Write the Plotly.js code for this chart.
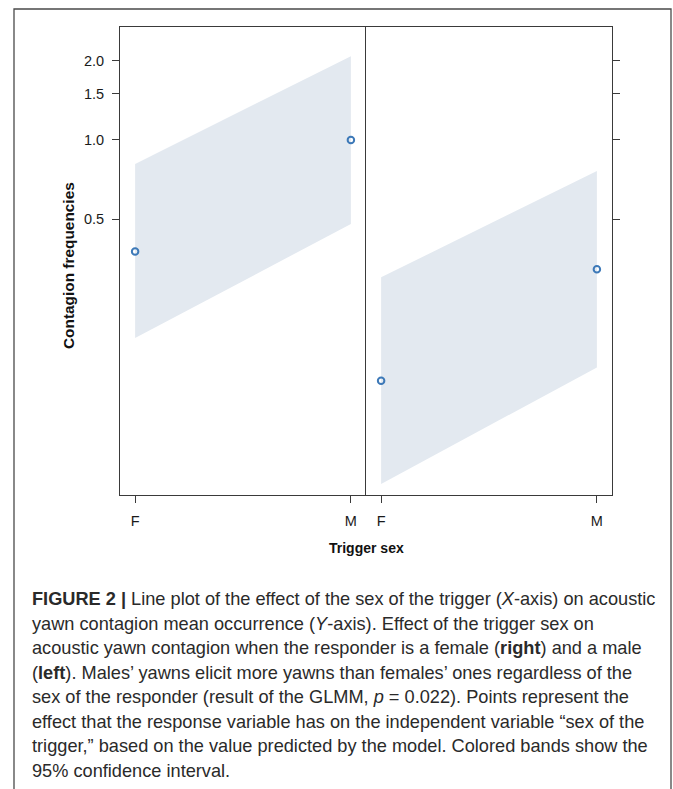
<!DOCTYPE html>
<html>
<head>
<meta charset="utf-8">
<script src="https://cdn.plot.ly/plotly-3.0.1.min.js"></script>
<style>
  html, body { margin: 0; padding: 0; background: #ffffff; }
  #chart { width: 673px; height: 789px; }
</style>
</head>
<body>
<div id="chart"></div>
<script>
// ---- data ----
const triggerSex = ['F', 'M'];
// left panel (male responder)
const leftFit   = [0.377, 1.00];
const leftUpper = [0.811, 2.08];
const leftLower = [0.177, 0.480];
// right panel (female responder)
const rightFit   = [0.122, 0.323];
const rightUpper = [0.301, 0.763];
const rightLower = [0.0494, 0.137];

const yTickVals = [0.5, 1.0, 1.5, 2.0];
const yTickText = ['0.5', '1.0', '1.5', '2.0'];

const captionLines = [
  '<b>FIGURE 2 |</b> Line plot of the effect of the sex of the trigger (<i>X</i>-axis) on acoustic',
  'yawn contagion mean occurrence (<i>Y</i>-axis). Effect of the trigger sex on',
  'acoustic yawn contagion when the responder is a female (<b>right</b>) and a male',
  '(<b>left</b>). Males\u2019 yawns elicit more yawns than females\u2019 ones regardless of the',
  'sex of the responder (result of the GLMM, <i>p</i> = 0.022). Points represent the',
  'effect that the response variable has on the independent variable \u201csex of the',
  'trigger,\u201d based on the value predicted by the model. Colored bands show the',
  '95% confidence interval.'
];

// ---- styles ----
const bandColor = 'rgb(227,233,240)';
const pointColor = '#3d79b8';
const axisColor = '#3a3a3a';
const FONT = 'Liberation Sans, Arial, Helvetica, sans-serif';
const CAPFONT = 'Liberation Sans, Arial, Helvetica, sans-serif';

function band(xa, ya, upper, lower) {
  return {
    type: 'scatter', mode: 'lines', xaxis: xa, yaxis: ya,
    x: [triggerSex[0], triggerSex[1], triggerSex[1], triggerSex[0]],
    y: [upper[0], upper[1], lower[1], lower[0]],
    fill: 'toself', fillcolor: bandColor, line: {width: 0, color: bandColor},
    hoverinfo: 'skip', showlegend: false
  };
}
function pts(xa, ya, vals) {
  return {
    type: 'scatter', mode: 'markers', xaxis: xa, yaxis: ya,
    x: triggerSex, y: vals,
    marker: {symbol: 'circle-open', size: 6.5, color: pointColor, line: {width: 2, color: pointColor}},
    showlegend: false
  };
}

const traces = [
  band('x', 'y', leftUpper, leftLower),
  pts('x', 'y', leftFit),
  band('x2', 'y2', rightUpper, rightLower),
  pts('x2', 'y2', rightFit)
];

// pixel geometry helpers (plot area: x 120..612, y 27..495)
const W = 673, H = 789, L = 120, R = 612, T = 27, B = 495;
const px = x => (x - L) / (R - L);
const py = y => (B - y) / (B - T);

const yRange = [Math.log10(0.0449), Math.log10(2.685)];
const xRange = [-0.07, 1.07];

const xCommon = {
  type: 'category', categoryorder: 'array', categoryarray: triggerSex,
  range: xRange, showline: true, mirror: true, linecolor: axisColor, linewidth: 1,
  ticks: 'outside', ticklen: 7, tickcolor: axisColor, tickwidth: 1,
  showgrid: false, zeroline: false, fixedrange: true,
  tickfont: {family: FONT, size: 14.5, color: '#1a1a1a'}, ticklabelstandoff: 6
};
const yCommon = {
  type: 'log', range: yRange, tickvals: yTickVals, ticktext: yTickText,
  showline: true, linecolor: axisColor, linewidth: 1,
  ticks: 'outside', ticklen: 7, tickcolor: axisColor, tickwidth: 1,
  showgrid: false, zeroline: false, fixedrange: true,
  tickfont: {family: FONT, size: 14.5, color: '#1a1a1a'}
};

const annotations = captionLines.map((t, i) => ({
  xref: 'paper', yref: 'paper', x: px(30), y: py(605 + 24.5 * i - 6),
  xanchor: 'left', yanchor: 'middle', showarrow: false, align: 'left',
  text: t, font: {family: CAPFONT, size: 18.2, color: '#2a2a2a'}
}));

annotations.push({
  xref: 'paper', yref: 'paper', x: px(366), y: py(548),
  xanchor: 'center', yanchor: 'middle', showarrow: false,
  text: '<b>Trigger sex</b>', font: {family: FONT, size: 14, color: '#111'}
});
annotations.push({
  xref: 'paper', yref: 'paper', x: px(68), y: py(266),
  xanchor: 'center', yanchor: 'middle', showarrow: false, textangle: -90,
  text: '<b>Contagion frequencies</b>', font: {family: FONT, size: 15.4, color: '#111'}
});

const layout = {
  width: W, height: H,
  margin: {l: L, r: W - R, t: T, b: H - B, pad: 0},
  paper_bgcolor: '#ffffff', plot_bgcolor: '#ffffff',
  showlegend: false,
  font: {family: FONT, color: '#1a1a1a'},
  xaxis: Object.assign({}, xCommon, {domain: [0, 0.5], anchor: 'y'}),
  xaxis2: Object.assign({}, xCommon, {domain: [0.5, 1], anchor: 'y2'}),
  yaxis: Object.assign({}, yCommon, {domain: [0, 1], anchor: 'x', side: 'left', mirror: false, ticklabelstandoff: 5}),
  yaxis2: Object.assign({}, yCommon, {domain: [0, 1], anchor: 'x2', side: 'right', mirror: true, showticklabels: false}),
  shapes: [{
    type: 'rect', xref: 'paper', yref: 'paper',
    x0: px(14), x1: px(671), y0: py(9), y1: py(820),
    line: {color: '#4a4a4a', width: 1.3}, fillcolor: 'rgba(0,0,0,0)', layer: 'below'
  }],
  annotations: annotations
};

Plotly.newPlot('chart', traces, layout, {displayModeBar: false, staticPlot: true});
</script>
</body>
</html>
